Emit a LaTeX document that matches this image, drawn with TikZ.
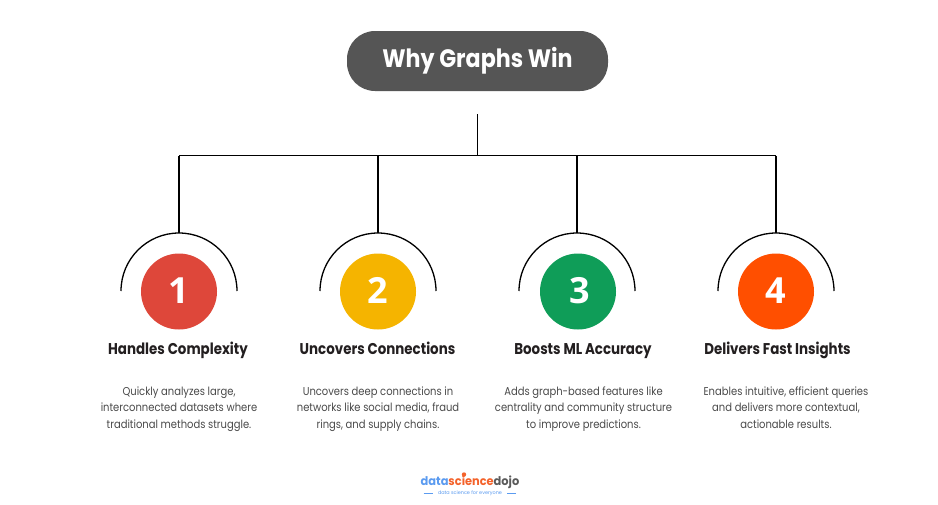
\documentclass[tikz,border=0pt]{standalone}
\usepackage{fontspec}
\setmainfont{Poppins}
\newfontfamily\numfont{Open Sans}
\usetikzlibrary{calc}
\definecolor{pillc}{HTML}{555555}
\definecolor{inkc}{HTML}{231F20}
\definecolor{bodyc}{HTML}{4A4A4A}
\definecolor{redc}{HTML}{DE473A}
\definecolor{yelc}{HTML}{F5B400}
\definecolor{grnc}{HTML}{0F9D58}
\definecolor{orac}{HTML}{FF4F00}
\definecolor{dblue}{HTML}{5B9BF0}
\definecolor{dorange}{HTML}{F4622A}
\definecolor{dgrey}{HTML}{5A5A5A}
\tikzset{
 conn/.style={draw=black,line width=1.6pt},
 arcline/.style={draw=black,line width=1.3pt},
 numdisc/.style={circle,minimum size=76pt,inner sep=0pt,text=white,font={\numfont\fontsize{36}{36}\selectfont\bfseries}},
 headtxt/.style={text=inkc,inner sep=0pt,anchor=base,font={\fontsize{15.6}{18}\selectfont\addfontfeature{FakeStretch=0.86}\bfseries}},
 bodytxt/.style={text=bodyc,inner sep=0pt,align=center,font={\fontsize{11.4}{16.3}\selectfont\addfontfeature{FakeStretch=0.875}}},
}
\newcommand{\branch}[8]{%
  \coordinate (drop#1) at (#2,155.5);
  \coordinate (top#1) at (#2,233);
  \draw[conn] (drop#1) -- (top#1);
  \draw[arcline] ($(top#1)+(-58,58)$) arc[start angle=180,end angle=0,radius=58pt];
  \node[numdisc,fill=#3] (disc#1) at (#4,291.5) {\ifnum#1=3\hspace{4pt}\fi\raisebox{2pt}{#1}};
  \node[headtxt] (head#1) at (#5,354) {#6};
  \node[bodytxt] (body#1) at (#7,409) {\vphantom{Ag}#8\vphantom{Ag}};
}
\begin{document}
\begin{tikzpicture}[x=1pt,y=-1pt]
\useasboundingbox (0,0) rectangle (938,504);
\fill[white] (0,0) rectangle (938,504);
\node[fill=pillc,rounded corners=28pt,minimum width=261pt,minimum height=60pt,inner sep=0pt,text=white,font={\fontsize{25.2}{30}\selectfont\addfontfeature{FakeStretch=0.88}\bfseries}] (title) at (477.5,61) {\raisebox{-1.5pt}{Why Graphs Win}};
\coordinate (stem) at (477.6,114);
\coordinate (bus) at (477.6,155.5);
\draw[conn] (stem) -- (bus);
\branch{1}{179}{redc}{179}{178}{Handles Complexity}{179}{Quickly analyzes large,\\interconnected datasets where\\traditional methods struggle.}
\branch{2}{378}{yelc}{378}{377.5}{Uncovers Connections}{378}{Uncovers deep connections in\\networks like social media, fraud\\rings, and supply chains.}
\branch{3}{577}{grnc}{578}{583}{Boosts ML Accuracy}{583.5}{Adds graph-based features like\\centrality and community structure\\to improve predictions.}
\branch{4}{776}{orac}{776}{777.5}{Delivers Fast Insights}{786}{Enables intuitive, efficient queries\\and delivers more contextual,\\actionable results.}
\draw[conn] (drop1) -- (drop4);
\node[inner sep=0pt,font={\fontsize{12}{13}\selectfont\addfontfeature{FakeStretch=0.95}\bfseries}] (logo) at (470,482.5) {\textcolor{dblue}{data}\textcolor{dorange}{science}\textcolor{dgrey}{dojo}};
\node[inner sep=0pt,text=dblue,font={\fontsize{4.9}{6}\selectfont}] (tag) at (470,493) {data science for everyone};
\coordinate (dot) at (464,474.5);
\fill[dorange] (dot) circle[radius=2.2pt];
\coordinate (la) at (423.5,493); \coordinate (lb) at (433,493);
\coordinate (ra) at (507,493); \coordinate (rb) at (516,493);
\draw[dblue,line width=.8pt] (la) -- (lb) (ra) -- (rb);
\end{tikzpicture}
\end{document}
